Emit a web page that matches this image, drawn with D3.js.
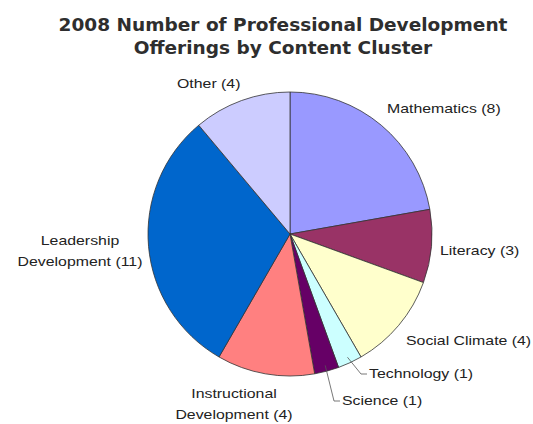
<!DOCTYPE html>
<html>
<head>
<meta charset="utf-8">
<script src="https://cdn.jsdelivr.net/npm/d3@7"></script>
<style>
  body { margin: 0; background: #fff; }
</style>
</head>
<body>
<div class="canvas"></div>
<script>
// data
const categories = [
  "Mathematics",
  "Literacy",
  "Social Climate",
  "Technology",
  "Science",
  "Instructional Development",
  "Leadership Development",
  "Other",
];
const values = [8, 3, 4, 1, 1, 4, 11, 4];
const titleLines = [
  "2008 Number of Professional Development",
  "Offerings by Content Cluster",
];

// styles
const palette = ["#9999ff", "#993366", "#ffffcc", "#ccffff", "#660066", "#ff8080", "#0066cc", "#ccccff"];

// label layout (manual, like the original chart)
const labelSpots = [
  { x: 387, y: 113, anchor: "start", lines: 1 },
  { x: 440, y: 255, anchor: "start", lines: 1 },
  { x: 406, y: 345, anchor: "start", lines: 1 },
  { x: 369, y: 378, anchor: "start", lines: 1, leader: true },
  { x: 342, y: 405, anchor: "start", lines: 1, leader: true },
  { x: 234, y: 398, anchor: "middle", lines: 2 },
  { x: 80, y: 245, anchor: "middle", lines: 2 },
  { x: 177, y: 88, anchor: "start", lines: 1 },
];

const width = 533;
const height = 424;
const cx = 290;
const cy = 234;
const radius = 142;
const stretch = 1.22;

const svg = d3
  .select(".canvas")
  .append("svg")
  .attr("width", width)
  .attr("height", height);

// title
const title = svg.append("g").attr("class", "title");
titleLines.forEach((t, i) => {
  title
    .append("g")
    .attr("transform", `translate(283, ${31 + i * 23}) scale(1.09, 1)`)
    .append("text")
    .attr("text-anchor", "middle")
    .attr("font-family", "DejaVu Sans, Verdana, sans-serif")
    .attr("font-weight", "bold")
    .attr("font-size", 17)
    .attr("fill", "#2e2e2e")
    .text(t);
});

const rows = categories.map((c, i) => ({ name: c, value: values[i], i }));

const pie = d3.pie().sort(null).value((d) => d.value);
const arc = d3.arc().innerRadius(0).outerRadius(radius);
const edge = d3.arc().innerRadius(radius - 6).outerRadius(radius - 6);

const graph = svg.append("g").attr("transform", `translate(${cx}, ${cy})`);

const arcs = pie(rows);

graph
  .selectAll("path.slice")
  .data(arcs)
  .enter()
  .append("path")
  .attr("class", "slice")
  .attr("d", arc)
  .attr("fill", (d) => palette[d.data.i])
  .attr("stroke", "#333")
  .attr("stroke-width", 0.8);

// leader lines
arcs.forEach((d) => {
  const spot = labelSpots[d.data.i];
  if (!spot.leader) return;
  const [sx, sy] = edge.centroid(d);
  const ly = spot.y - 4;
  svg
    .append("polyline")
    .attr("points", [
      [cx + sx, cy + sy],
      [spot.x - 8, ly],
      [spot.x - 2, ly],
    ].map((p) => p.join(",")).join(" "))
    .attr("fill", "none")
    .attr("stroke", "#555")
    .attr("stroke-width", 0.8);
});

// labels
rows.forEach((d) => {
  const spot = labelSpots[d.i];
  const label = `${d.name} (${d.value})`;
  let parts = [label];
  if (spot.lines === 2) {
    const words = d.name.split(" ");
    parts = [words[0], `${words.slice(1).join(" ")} (${d.value})`];
  }
  parts.forEach((p, j) => {
    svg
      .append("g")
      .attr("transform", `translate(${spot.x}, ${spot.y + j * 21}) scale(${stretch}, 1)`)
      .append("text")
      .attr("text-anchor", spot.anchor)
      .attr("font-family", "Liberation Sans, Arial, sans-serif")
      .attr("font-size", 13)
      .attr("fill", "#222")
      .text(p);
  });
});
</script>
</body>
</html>
